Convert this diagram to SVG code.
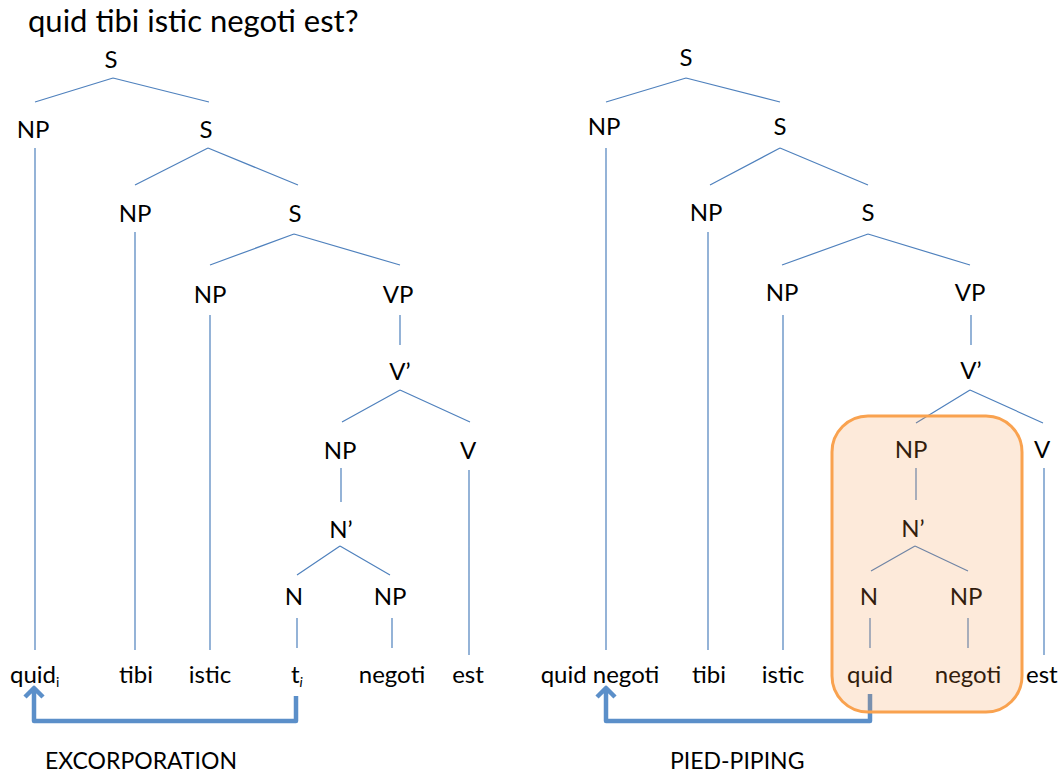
<svg xmlns="http://www.w3.org/2000/svg" width="1064" height="776" viewBox="0 0 1064 776">
<style>
text{font-family:Lato,"Liberation Sans",sans-serif;fill:#000}
.t{font-size:24px;text-anchor:middle}
.title{font-size:31px}
.cap{font-size:23px}
.e{stroke:#4f81bd;stroke-width:1.2;fill:none}
.mv{stroke:#5b8fc9;stroke-width:4.5;fill:none;stroke-linejoin:round}
.sub{font-size:14px}
</style>
<rect width="1064" height="776" fill="#fff"/>
<text class="title" x="28" y="32">quid tibi istic negoti est?</text>
<g id="connectors">
<path class="e" d="M113,78L35,102M113,78L209,102M35,148V650M208,148L135,185M208,148L298,185M135,232V650M294,234L210,265M294,234L400,265M210,315V650M400,315V345M400,390L342,422M400,390L470,422M341,468V502M469,470V655M340,546L297,575M340,546L390,575M297,618V648M392,618V648"/>
<path class="e" d="M686,78L606,102M686,78L780,102M606,148V650M780,148L710,185M780,148L868,185M708,232V650M868,234L782,265M868,234L970,265M783,315V650M971,315V345M970,390L916,423M970,390L1043,423M916,468V500M1044,468V655M915,546L871,571M915,546L968,571M870,618V648M968,618V648"/>
<path class="mv" d="M296,696V721H34V688M25,697L34,688L43,697"/>
<path class="mv" d="M870,694V721H606V688M597,697L606,688L615,697"/>
</g>
<g id="left-tree">
<text class="t" x="111" y="68">S</text>
<text class="t" x="33" y="138">NP</text>
<text class="t" x="206" y="138">S</text>
<text class="t" x="135" y="222">NP</text>
<text class="t" x="295" y="222">S</text>
<text class="t" x="210" y="303">NP</text>
<text class="t" x="398" y="303">VP</text>
<text class="t" x="400" y="380">V’</text>
<text class="t" x="340" y="459">NP</text>
<text class="t" x="468" y="459">V</text>
<text class="t" x="341" y="538">N’</text>
<text class="t" x="294" y="605">N</text>
<text class="t" x="390" y="605">NP</text>
<text x="10" y="683" style="font-size:24px">quid<tspan class="sub" dy="4">i</tspan></text>
<text class="t" x="136" y="683">tibi</text>
<text class="t" x="210" y="683">istic</text>
<text x="291" y="683" style="font-size:24px">t<tspan class="sub" dy="4" font-style="italic">i</tspan></text>
<text class="t" x="392" y="683">negoti</text>
<text class="t" x="468" y="683">est</text>
<text class="cap" x="45" y="769">EXCORPORATION</text>
</g>
<g id="right-tree">
<text class="t" x="686" y="66">S</text>
<text class="t" x="604" y="135">NP</text>
<text class="t" x="780" y="135">S</text>
<text class="t" x="706" y="221">NP</text>
<text class="t" x="868" y="221">S</text>
<text class="t" x="782" y="301">NP</text>
<text class="t" x="970" y="301">VP</text>
<text class="t" x="971" y="379">V’</text>
<text class="t" x="911" y="458">NP</text>
<text class="t" x="1042" y="458">V</text>
<text class="t" x="913" y="537">N’</text>
<text class="t" x="869" y="605">N</text>
<text class="t" x="966" y="605">NP</text>
<text class="t" x="600" y="683">quid negoti</text>
<text class="t" x="709" y="683">tibi</text>
<text class="t" x="783" y="683">istic</text>
<text class="t" x="870" y="683">quid</text>
<text class="t" x="968" y="683">negoti</text>
<text x="1026" y="683" style="font-size:24px">est</text>
<text class="cap" x="670" y="769">PIED-PIPING</text>
</g>
<g id="highlight">
<rect x="832" y="416" width="190" height="296" rx="36" fill="#f79646" fill-opacity="0.2" stroke="#f9a24f" stroke-width="3"/>
</g>
</svg>
